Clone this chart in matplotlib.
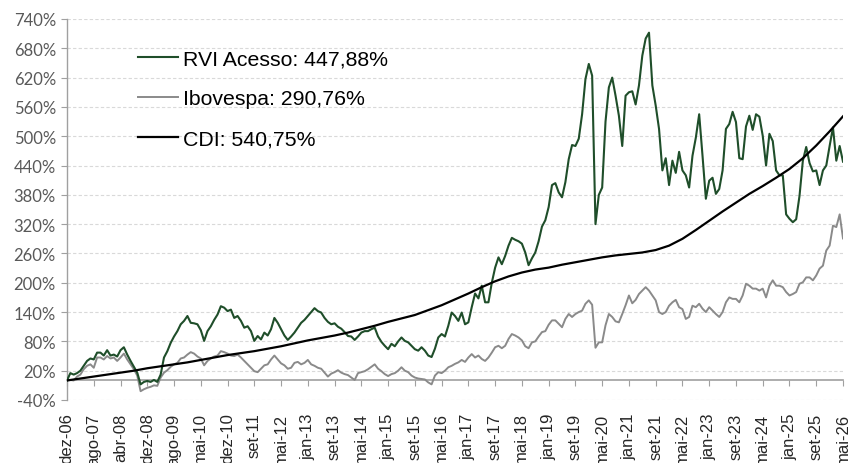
import numpy as np
import matplotlib
matplotlib.use('Agg')
import matplotlib.pyplot as plt

tick_labels = ['dez-06', 'ago-07', 'abr-08', 'dez-08', 'ago-09', 'mai-10', 'dez-10', 'set-11',
               'mai-12', 'jan-13', 'set-13', 'mai-14', 'jan-15', 'set-15', 'mai-16', 'jan-17',
               'set-17', 'mai-18', 'jan-19', 'set-19', 'mai-20', 'jan-21', 'set-21', 'mai-22',
               'jan-23', 'set-23', 'mai-24', 'jan-25', 'set-25', 'mai-26']

# 8 readings per labelled tick interval
rvi = [
    0, 15, 12, 15, 20, 30, 40, 45,
    43, 57, 57, 51, 62, 51, 53, 49,
    62, 68, 53, 40, 28, 16, -8, -3,
    -1, -3, 1, -3, 12, 47, 60, 77,
    90, 101, 115, 122, 132, 118, 117, 115,
    103, 81, 101, 111, 124, 135, 152, 149,
    142, 145, 128, 132, 122, 108, 111, 101,
    81, 91, 84, 98, 92, 105, 128, 118,
    105, 92, 83, 90, 98, 108, 118, 124,
    132, 140, 148, 142, 139, 128, 120, 115,
    117, 110, 106, 99, 91, 90, 83, 90,
    98, 101, 101, 105, 108, 90, 79, 71,
    64, 75, 70, 80, 88, 81, 78, 71,
    64, 61, 68, 61, 51, 48, 65, 88,
    95, 90, 112, 139, 132, 122, 139, 115,
    119, 150, 178, 168, 194, 160, 160, 200,
    231, 252, 238, 255, 276, 292, 288, 285,
    280, 262, 236, 250, 262, 285, 315, 328,
    355, 400, 404, 385, 375, 406, 453, 482,
    480, 495, 545, 617, 648, 624, 320, 380,
    395, 530, 600, 620, 583, 542, 480, 583,
    590, 592, 565, 604, 665, 700, 712, 604,
    563, 515, 430, 455, 400, 450, 425, 468,
    430, 420, 395, 460, 497, 545, 460, 372,
    409, 415, 382, 392, 430, 515, 525, 550,
    529, 455, 453, 520, 542, 513, 545, 540,
    501, 440, 505, 490, 430, 420, 420, 340,
    331, 324, 330, 378, 450, 478, 445, 428,
    430, 400, 430, 440, 480, 518, 450, 480,
    447.88,
]

ibov = [
    0, 1, 0, 8, 12, 23, 30, 33,
    26, 47, 47, 43, 50, 45, 47, 40,
    47, 55, 43, 33, 23, 10, -22, -18,
    -15, -13, -10, -11, 6, 16, 21, 28,
    33, 36, 45, 47, 53, 58, 55, 49,
    45, 31, 40, 45, 49, 51, 60, 58,
    55, 51, 50, 53, 47, 40, 33, 26,
    19, 17, 24, 31, 33, 43, 51, 43,
    35, 31, 24, 26, 36, 38, 33, 36,
    42, 33, 30, 26, 24, 16, 8, 14,
    17, 21, 16, 13, 11, 6, 1, 15,
    17, 19, 23, 28, 33, 24, 19, 13,
    9, 13, 15, 20, 27, 20, 17, 10,
    6, 4, 3, 2, -4, -8, 10, 17,
    15, 20, 27, 30, 34, 37, 42, 38,
    47, 54, 47, 51, 44, 40, 47, 57,
    68, 71, 66, 71, 85, 95, 92, 88,
    82, 70, 66, 78, 80, 90, 99, 101,
    114, 123, 123, 116, 109, 126, 136, 130,
    136, 140, 143, 157, 164, 155, 67, 78,
    78, 113, 136, 130, 121, 119, 136, 154,
    174, 158, 165, 177, 184, 191, 184, 174,
    164, 140, 136, 140, 153, 160, 165, 150,
    146, 126, 130, 153, 150, 157, 147, 140,
    150, 143, 136, 130, 140, 160, 170, 167,
    167, 160, 174, 198, 194, 188, 188, 184,
    188, 170, 194, 205, 194, 194, 191, 181,
    174, 177, 181, 198, 201, 211, 211, 205,
    215, 229, 235, 266, 276, 317, 314, 340,
    290.76,
]

# 2 readings per labelled tick interval
cdi = [0, 4, 8, 12, 16, 20, 25, 29, 33, 37, 42, 47, 52, 56, 60, 65, 70, 76, 82, 87,
       92, 98, 105, 112, 120, 127, 134, 144, 154, 166, 178, 191, 203, 213, 221, 227,
       231, 237, 242, 247, 252, 256, 259, 262, 267, 276, 290, 308, 327, 346, 364, 382,
       398, 415, 433, 455, 481, 510, 540.75]

legend_labels = ['RVI Acesso: 447,88%', 'Ibovespa: 290,76%', 'CDI: 540,75%']
y_ticks = list(range(-40, 741, 60))

plt.rcParams['font.family'] = ['Liberation Sans', 'DejaVu Sans']

W, H = 858, 464
fig = plt.figure(figsize=(W / 100, H / 100), dpi=100)
ax = fig.add_axes([67 / W, 1 - 401 / H, (843 - 67) / W, (401 - 20) / H])

for s in ['top', 'right']:
    ax.spines[s].set_visible(False)
ax.spines['bottom'].set_position(('data', 0))
ax.spines['bottom'].set_color('#a0a0a0')
ax.spines['bottom'].set_linewidth(1.2)
ax.spines['left'].set_color('#a0a0a0')
ax.spines['left'].set_linewidth(1.0)

x_r = np.arange(len(rvi)) / 8
x_i = np.arange(len(ibov)) / 8
x_c = np.arange(len(cdi)) / 2

l_ibov, = ax.plot(x_i, ibov, color='#8a8a8a', lw=1.4, zorder=3)
l_rvi, = ax.plot(x_r, rvi, color='#1f4e2a', lw=1.5, zorder=4)
l_cdi, = ax.plot(x_c, cdi, color='black', lw=1.6, zorder=5)

ax.set_xlim(0, len(tick_labels) - 1)
ax.set_ylim(-40, 740)
ax.set_yticks(y_ticks)
ax.set_yticklabels([f'{v}%' for v in y_ticks], family=['Lato', 'DejaVu Sans'])
ax.set_xticks(range(len(tick_labels)))
ax.set_xticklabels(tick_labels)

ax.yaxis.grid(True, linestyle=(0, (3, 2)), color='#d9d9d9', lw=0.8, zorder=0)
ax.set_axisbelow(True)

ax.tick_params(axis='y', direction='out', length=4, color='#a0a0a0', labelsize=12,
               labelcolor='#595959', pad=4)
ax.tick_params(axis='x', direction='out', length=4, color='#a0a0a0', labelsize=12,
               labelcolor='#262626', pad=19, labelrotation=90)

leg = ax.legend(handles=[l_rvi, l_ibov, l_cdi], labels=legend_labels, loc='upper left',
                bbox_to_anchor=(138 / W, 1 - 50 / H), bbox_transform=fig.transFigure,
                frameon=False, fontsize=15.3, handlelength=1.9, handletextpad=0.22,
                labelspacing=1.0, borderpad=0, borderaxespad=0)

fig.savefig('out.png', dpi=100)
